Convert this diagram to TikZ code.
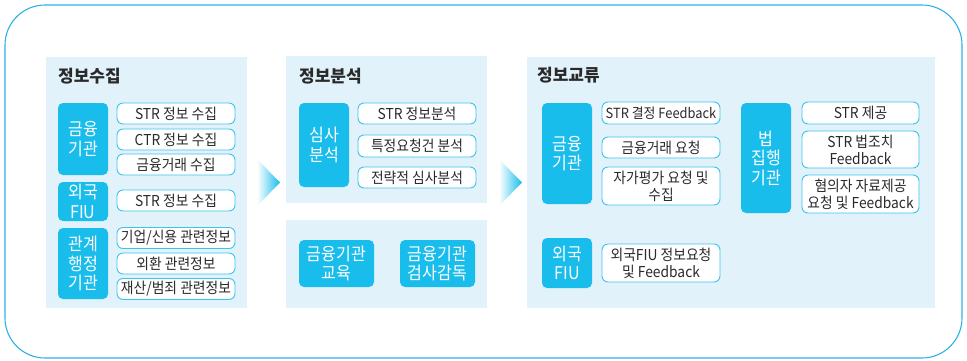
\documentclass[tikz,border=0pt]{standalone}
\usepackage{fontspec}
\setmainfont{Noto Sans CJK KR}
\newfontfamily\boxfont[FakeStretch=0.92]{Noto Sans CJK KR}
\usetikzlibrary{shapes.geometric}
\definecolor{panelbg}{HTML}{E1F2FA}
\definecolor{boxblue}{HTML}{19BDEC}
\definecolor{boxedge}{HTML}{3CC4EE}
\definecolor{outerline}{HTML}{2DB2E6}
\definecolor{txt}{HTML}{2A2A2A}
\tikzset{
  panel/.style={fill=panelbg, draw=none, inner sep=0pt},
  bluebox/.style={fill=boxblue, draw=none, rounded corners=5pt, text=white, align=center, inner sep=0pt,
    font=\boxfont\fontsize{17.5}{19.5}\selectfont},
  whitebox/.style={fill=white, draw=boxedge, line width=0.9pt, rounded corners=6pt, text=txt, align=center, inner sep=0pt,
    font=\boxfont\fontsize{15}{17}\selectfont},
  ptitle/.style={anchor=west, inner sep=0pt, text=txt, font=\fontsize{17}{20}\selectfont\bfseries},
  wb/.style={whitebox, minimum width=118pt, minimum height=21pt},
}
\begin{document}
\begin{tikzpicture}[x=1pt,y=-1pt]
\useasboundingbox (0,0) rectangle (967,360);
% outer frame
\draw[outerline, line width=1.1pt, rounded corners=40pt] (5,5) rectangle (962,358);
% panels
\node[panel, minimum width=201pt, minimum height=251pt] (p1) at (146.5,182.5) {};
\node[panel, minimum width=201pt, minimum height=147pt] (p2) at (386.5,129.5) {};
\node[panel, minimum width=201pt, minimum height=88pt] (p2b) at (386.5,264) {};
\node[panel, minimum width=408pt, minimum height=251pt] (p3) at (731,182.5) {};
% titles
\node[ptitle] (t1) at (58,76) {정보수집};
\node[ptitle] (t2) at (299,76) {정보분석};
\node[ptitle] (t3) at (537,75) {정보교류};
% panel 1
\node[bluebox, minimum width=50pt, minimum height=72pt] (b11) at (83,139) {금융\\기관};
\node[bluebox, minimum width=50pt, minimum height=39pt] (b12) at (83,201.5) {외국\\FIU};
\node[bluebox, minimum width=50pt, minimum height=71pt] (b13) at (83,263.5) {관계\\행정\\기관};
\node[wb] (w11) at (176,113.5) {STR 정보 수집};
\node[wb] (w12) at (176,139.5) {CTR 정보 수집};
\node[wb] (w13) at (176,164.5) {금융거래 수집};
\node[wb] (w14) at (176,200.5) {STR 정보 수집};
\node[wb] (w15) at (176,238) {기업/신용 관련정보};
\node[wb] (w16) at (176,263.5) {외환 관련정보};
\node[wb] (w17) at (176,289) {재산/범죄 관련정보};
% arrow 1
\shade[left color=white, right color=boxblue] (257,159) -- (280,182.5) -- (257,206) -- cycle;
% panel 2
\node[bluebox, minimum width=50pt, minimum height=84pt] (b21) at (324,145) {심사\\분석};
\node[wb] (w21) at (417,113.5) {STR 정보분석};
\node[wb, minimum height=22pt] (w22) at (417,146) {특정요청건 분석};
\node[wb] (w23) at (417,177.5) {전략적 심사분석};
\node[bluebox, minimum width=75pt, minimum height=47pt] (b22) at (336.5,263.5) {금융기관\\교육};
\node[bluebox, minimum width=75pt, minimum height=47pt] (b23) at (437.5,263.5) {금융기관\\검사감독};
% arrow 2
\shade[left color=white, right color=boxblue] (499,159) -- (522,182.5) -- (499,206) -- cycle;
% panel 3
\node[bluebox, minimum width=50pt, minimum height=101pt] (b31) at (567,153.5) {금융\\기관};
\node[wb, minimum height=22pt, font=\boxfont\fontsize{14}{17}\selectfont] (w31) at (661,113) {STR 결정 Feedback};
\node[wb] (w32) at (661,147.5) {금융거래 요청};
\node[wb, minimum height=38pt] (w33) at (661,186) {자가평가 요청 및\\수집};
\node[bluebox, minimum width=50pt, minimum height=50pt] (b32) at (567,263) {외국\\FIU};
\node[wb, minimum height=38pt] (w34) at (661,263) {외국FIU 정보요청\\및 Feedback};
\node[bluebox, minimum width=50pt, minimum height=110pt] (b33) at (766,158) {법\\집행\\기관};
\node[wb, minimum width=117pt, minimum height=22pt] (w35) at (860.5,113) {STR 제공};
\node[wb, minimum width=117pt, minimum height=37pt] (w36) at (860.5,149.5) {STR 법조치\\Feedback};
\node[wb, minimum width=117pt, minimum height=38pt] (w37) at (860.5,194) {혐의자 자료제공\\요청 및 Feedback};
\end{tikzpicture}
\end{document}
